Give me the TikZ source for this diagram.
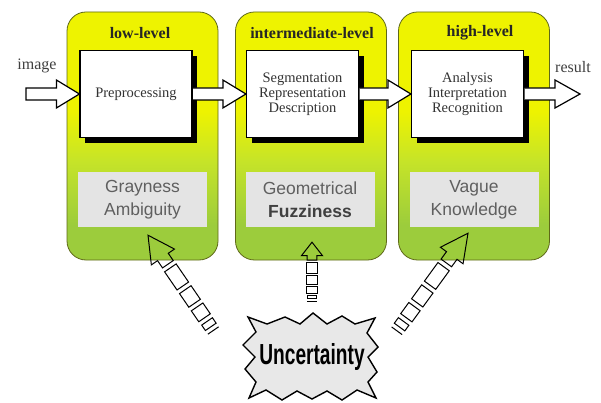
\documentclass[tikz,border=0pt]{standalone}
\usepackage{fontspec}
\setmainfont{Liberation Serif}
\newfontfamily\sansf{Liberation Sans}
\usetikzlibrary{calc,shadows}
\definecolor{pyellow}{RGB}{238,243,0}
\definecolor{pgreen}{RGB}{156,204,60}
\definecolor{pmid}{RGB}{198,228,40}
\definecolor{pborder}{RGB}{95,105,25}
\definecolor{gbox}{RGB}{228,228,228}
\definecolor{gtext}{RGB}{95,95,95}
\definecolor{starfill}{RGB}{232,232,232}
\pgfdeclareverticalshading{panelshade}{100bp}{color(0bp)=(pgreen); color(32bp)=(pgreen); color(45bp)=(pmid); color(55bp)=(pyellow); color(100bp)=(pyellow)}
\tikzset{
  pics/uarrow/.style={code={
    \draw[dashar] (0,0) -- (-24,14) -- (-24,6.5) -- (-32,6.5) -- (-32,-6.5) -- (-24,-6.5) -- (-24,-14) -- cycle;
    \draw[dashar] (-36,-7) rectangle (-56,7);
    \draw[dashar] (-60,-7) rectangle (-75,7);
    \draw[dashar] (-79,-7) rectangle (-91,7);
    \draw[dashar] (-95,-6.5) rectangle (-101,6.5);
    \draw[dashar] (-105,-6.5) -- (-105,6.5);
  }}
}
\begin{document}
\begin{tikzpicture}[x=1pt,y=-1pt,
  panel/.style={draw=pborder, line width=0.8pt, rounded corners=19pt, shading=panelshade,
    minimum width=151pt, minimum height=248pt, inner sep=0pt},
  ttl/.style={font=\bfseries\fontsize{16}{16}\selectfont, text=black!85},
  stepbox/.style={draw=black, line width=1.2pt, fill=white, minimum width=112pt, minimum height=87pt,
    align=center, inner sep=2pt, font=\fontsize{14.5}{15}\selectfont, text=black!80,
    general shadow={fill=black, shadow xshift=5pt, shadow yshift=-6pt}},
  softbox/.style={fill=gbox, minimum width=129pt, minimum height=55pt, align=center, inner sep=2pt,
    font=\sansf\fontsize{17.5}{23}\selectfont, text=gtext},
  bigarrow/.style={draw=black, line width=1.2pt, fill=white, line join=miter},
  dashar/.style={draw=black, line width=1pt, line join=miter},
  lab/.style={font=\fontsize{16}{16}\selectfont, text=black!75, inner sep=0pt}
]
\useasboundingbox (0,0) rectangle (601,403);
\fill[white] (0,0) rectangle (601,403);

% panels
\node[panel] (p1) at (142.5,136) {};
\node[panel] (p2) at (311,136) {};
\node[panel] (p3) at (474,136) {};

% titles
\node[ttl] (t1) at (140,33) {low-level};
\node[ttl] (t2) at (312,33) {intermediate-level};
\node[ttl] (t3) at (480,33) {high-level};

% process boxes
\node[stepbox] (b1) at (136,94) {Preprocessing};
\node[stepbox] (b2) at (302.5,94) {Segmentation\\Representation\\Description};
\node[stepbox] (b3) at (467.5,94) {Analysis\\Interpretation\\Recognition};

% uncertainty boxes
\node[softbox] (g1) at (142.5,199.5) {Grayness\\Ambiguity};
\node[softbox] (g2) at (310,199.5) {Geometrical\\{\bfseries\color{black!75}Fuzziness}};
\node[softbox] (g3) at (474,199.5) {Vague\\Knowledge};

% labels
\node[lab] (image) at (37,66) {image};
\node[lab] (result) at (573,67) {result};

% big block arrows
\coordinate (imgtail) at (26,94);
\coordinate (restip) at (580,94);
\filldraw[bigarrow] ($(imgtail)+(0,-6)$) -- ($(b1.west)+(-23,-6)$) -- ($(b1.west)+(-23,-14)$) -- (b1.west)
  -- ($(b1.west)+(-23,14)$) -- ($(b1.west)+(-23,6)$) -- ($(imgtail)+(0,6)$) -- cycle;
\filldraw[bigarrow] ($(b1.east)+(0.6,-6)$) -- ($(b2.west)+(-23,-6)$) -- ($(b2.west)+(-23,-14)$) -- (b2.west)
  -- ($(b2.west)+(-23,14)$) -- ($(b2.west)+(-23,6)$) -- ($(b1.east)+(0.6,6)$);
\filldraw[bigarrow] ($(b2.east)+(0.6,-6)$) -- ($(b3.west)+(-23,-6)$) -- ($(b3.west)+(-23,-14)$) -- (b3.west)
  -- ($(b3.west)+(-23,14)$) -- ($(b3.west)+(-23,6)$) -- ($(b2.east)+(0.6,6)$);
\filldraw[bigarrow] ($(b3.east)+(0.6,-6)$) -- ($(restip)+(-25,-6)$) -- ($(restip)+(-25,-14)$) -- (restip)
  -- ($(restip)+(-25,14)$) -- ($(restip)+(-25,6)$) -- ($(b3.east)+(0.6,6)$);

% uncertainty star
\coordinate (uc) at (312,357);
\begin{scope}[shift={(uc)}]
\filldraw[fill=starfill, draw=black, line width=1.4pt, line join=miter]
  (-64,-40) -- (-45,-33) -- (-27,-40) -- (-12,-33) -- (1,-44) -- (15,-33) -- (30,-41) -- (43,-33)
  -- (63,-39) -- (55,-24) -- (66,-10) -- (56,0) -- (65,15) -- (56,25) -- (64,41) -- (45,33)
  -- (30,43) -- (15,34) -- (0,42) -- (-15,34) -- (-30,43) -- (-46,33) -- (-63,41) -- (-56,25)
  -- (-67,12) -- (-57,0) -- (-69,-12) -- (-56,-25) -- cycle;
\end{scope}
\node[inner sep=0pt] (unc) at (uc) {\sansf\bfseries\fontsize{29}{29}\selectfont\scalebox{0.66}[1]{Uncertainty}};

% dashed arrows from uncertainty to the boxes
\coordinate (tipL) at ($(g1.south)+(5.5,8)$);
\coordinate (tipM) at ($(g2.south)+(2,15)$);
\coordinate (tipR) at ($(g3.south)+(-6,6)$);
\pic[rotate=124.4, xscale=1.1] at (tipL) {uarrow};
\pic[rotate=90, xscale=0.56, yscale=0.75] at (tipM) {uarrow};
\pic[rotate=53.9, xscale=1.15] at (tipR) {uarrow};
\end{tikzpicture}
\end{document}
